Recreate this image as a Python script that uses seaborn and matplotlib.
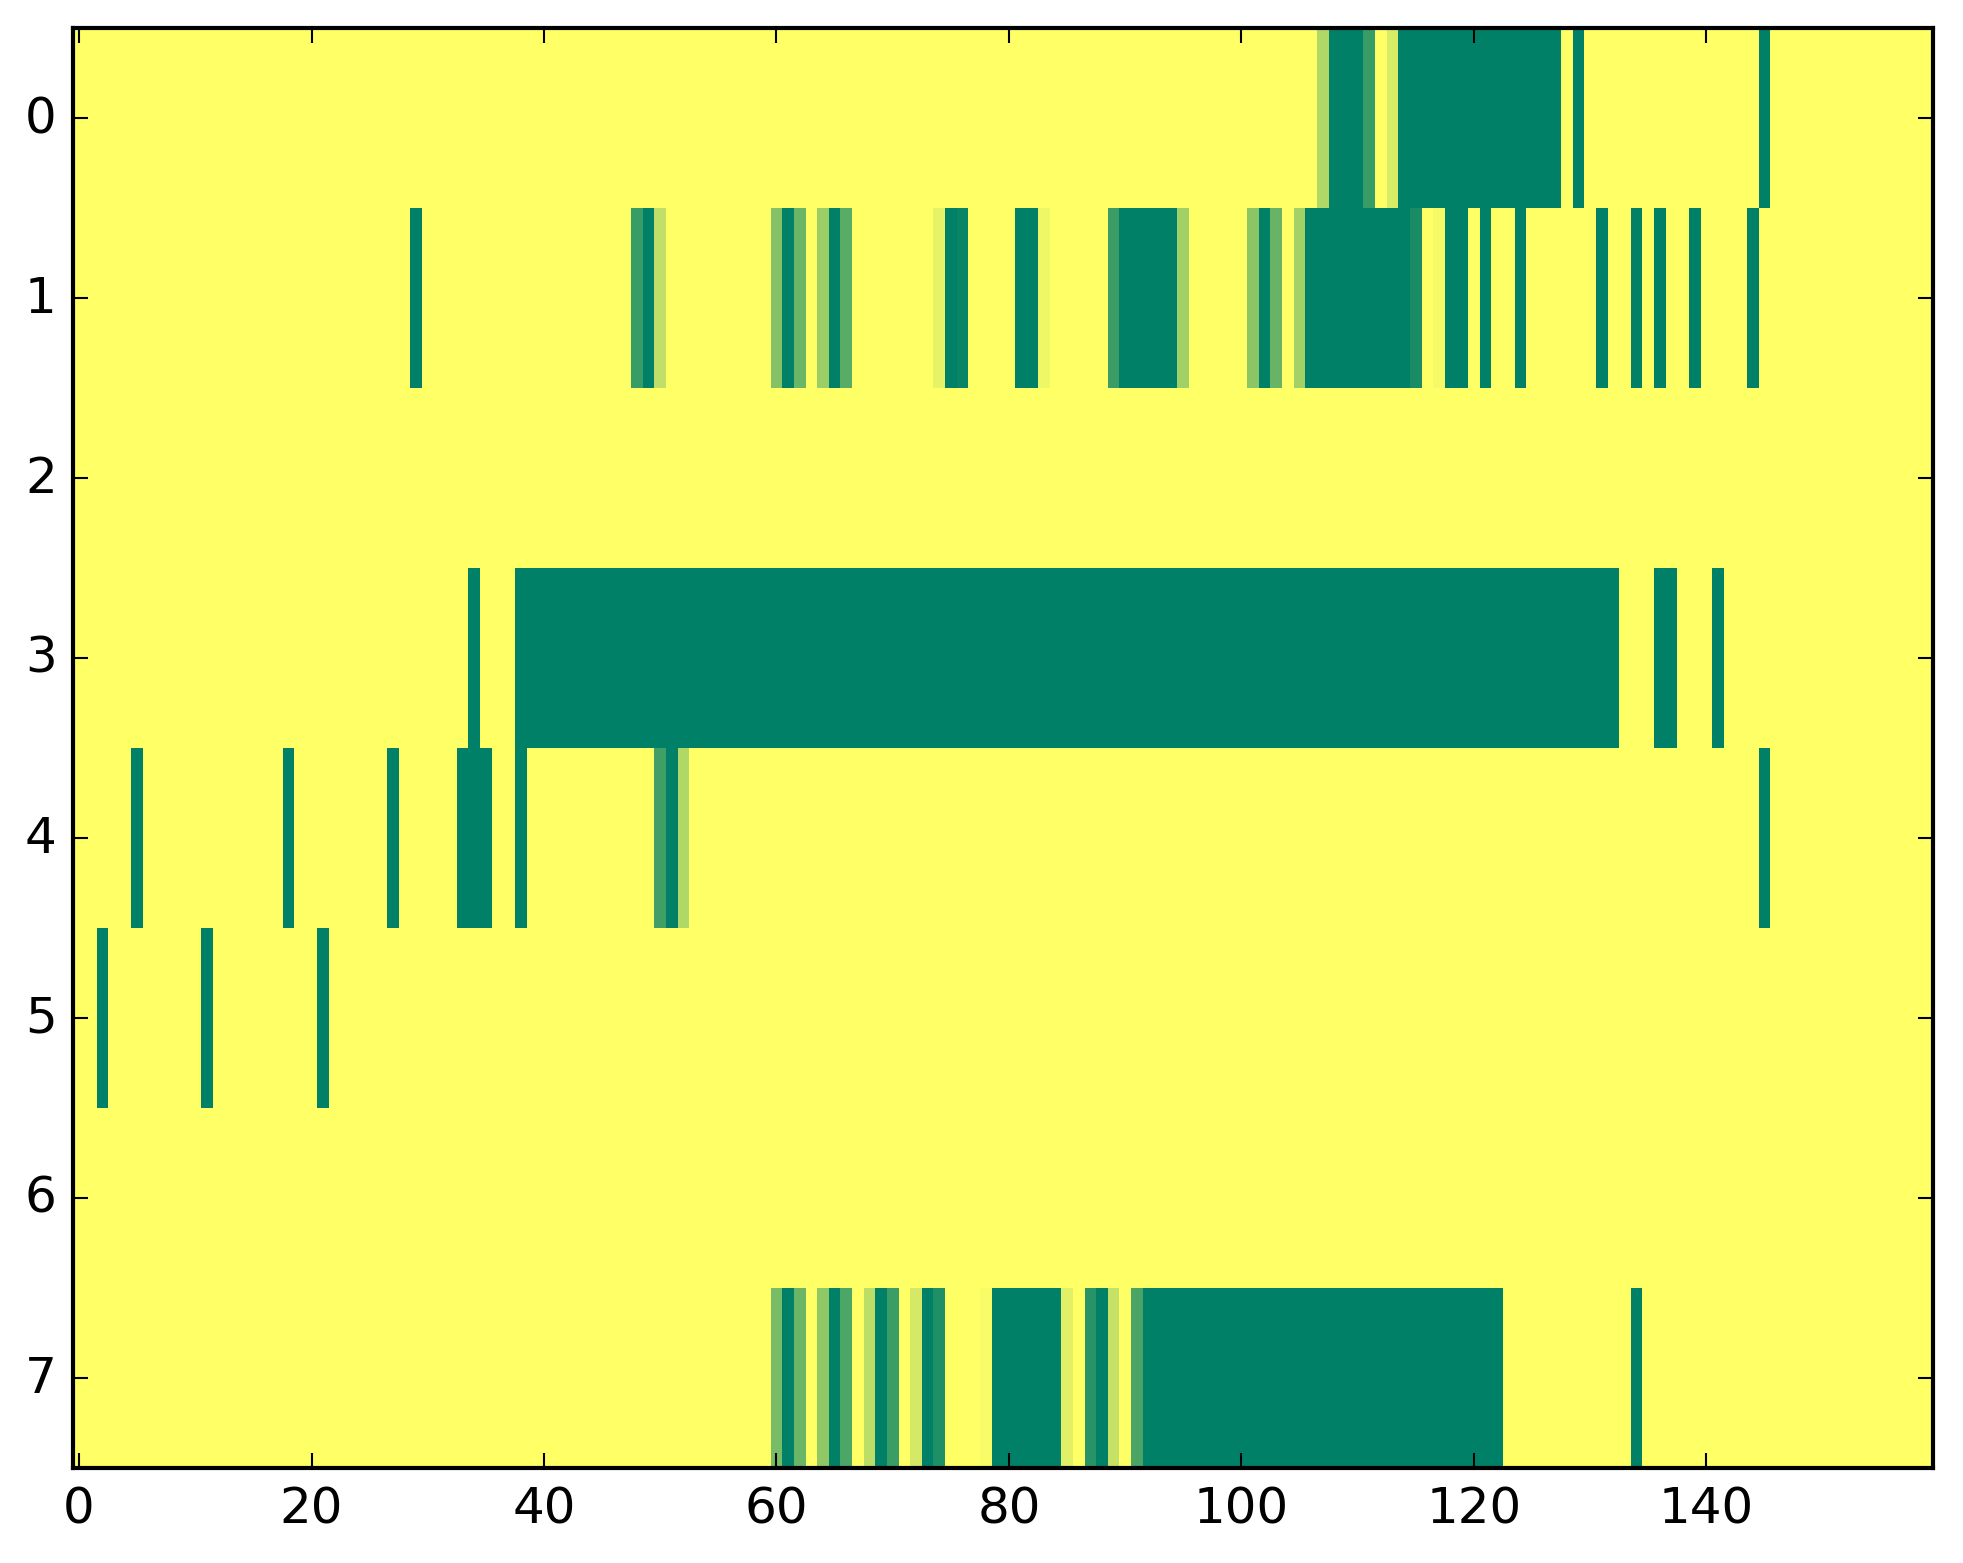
import numpy as np
import matplotlib
matplotlib.use("Agg")
import matplotlib.pyplot as plt
import seaborn as sns

n_rows = 8
n_cols = 160

# runs of cells per row: (first column, last column, value)
row0_runs = [(107, 107, 0.31), (108, 110, 1), (111, 111, 0.78), (113, 113, 0.15),
             (114, 127, 1), (129, 129, 1), (145, 145, 1)]
row1_runs = [(29, 29, 1), (48, 48, 0.78), (49, 49, 1), (50, 50, 0.25),
             (60, 60, 0.48), (61, 61, 1), (62, 62, 0.58), (64, 64, 0.39),
             (65, 65, 1), (66, 66, 0.65), (74, 74, 0.1), (75, 75, 1),
             (76, 76, 0.96), (81, 82, 1), (83, 83, 0.07), (89, 89, 0.77),
             (90, 94, 1), (95, 95, 0.37), (101, 101, 0.46), (102, 102, 1),
             (103, 103, 0.59), (105, 105, 0.36), (106, 114, 1), (115, 115, 0.9),
             (117, 117, 0.04), (118, 119, 1), (121, 121, 1), (124, 124, 1),
             (131, 131, 1), (134, 134, 1), (136, 136, 1), (139, 139, 1),
             (144, 144, 1)]
row2_runs = []
row3_runs = [(34, 34, 1), (38, 132, 1), (136, 137, 1), (141, 141, 1)]
row4_runs = [(5, 5, 1), (18, 18, 1), (27, 27, 1), (33, 35, 1), (38, 38, 1),
             (50, 50, 0.75), (51, 51, 1), (52, 52, 0.31), (145, 145, 1)]
row5_runs = [(2, 2, 1), (11, 11, 1), (21, 21, 1)]
row6_runs = []
row7_runs = [(60, 60, 0.53), (61, 61, 1), (62, 62, 0.58), (64, 64, 0.43),
             (65, 65, 1), (66, 66, 0.7), (68, 68, 0.26), (69, 69, 1),
             (70, 70, 0.77), (72, 72, 0.17), (73, 73, 1), (74, 74, 0.88),
             (78, 78, 0.03), (79, 84, 1), (85, 85, 0.12), (87, 87, 0.84),
             (88, 88, 1), (89, 89, 0.23), (91, 91, 0.71), (92, 122, 1),
             (134, 134, 1)]

x_ticks = [0, 20, 40, 60, 80, 100, 120, 140]
y_ticks = [0, 1, 2, 3, 4, 5, 6, 7]

all_runs = [row0_runs, row1_runs, row2_runs, row3_runs,
            row4_runs, row5_runs, row6_runs, row7_runs]

grid = np.zeros((n_rows, n_cols))
for r, runs in enumerate(all_runs):
    for start, stop, val in runs:
        grid[r, start:stop + 1] = val

W, H, DPI = 1963, 1564, 300
left, right, top, bottom = 73.3, 1933.0, 29.2, 1468.7
fig = plt.figure(figsize=(W / DPI, H / DPI), dpi=DPI)
ax = fig.add_axes([left / W, (H - bottom) / H, (right - left) / W, (bottom - top) / H])

sns.heatmap(grid, cmap="summer_r", vmin=0, vmax=1, cbar=False, ax=ax,
            xticklabels=False, yticklabels=False)

ax.set_xticks(np.array(x_ticks) + 0.5)
ax.set_xticklabels([str(t) for t in x_ticks])
ax.set_yticks(np.array(y_ticks) + 0.5)
ax.set_yticklabels([str(t) for t in y_ticks], rotation=0, va="center")

for s in ax.spines.values():
    s.set_visible(True)
    s.set_linewidth(1.0)
    s.set_color("black")

ax.tick_params(direction="in", length=3.7, width=0.5, top=True, right=True,
               bottom=True, left=True, labelsize=12, pad=4, colors="black")

fig.savefig("out.png", dpi=DPI)
